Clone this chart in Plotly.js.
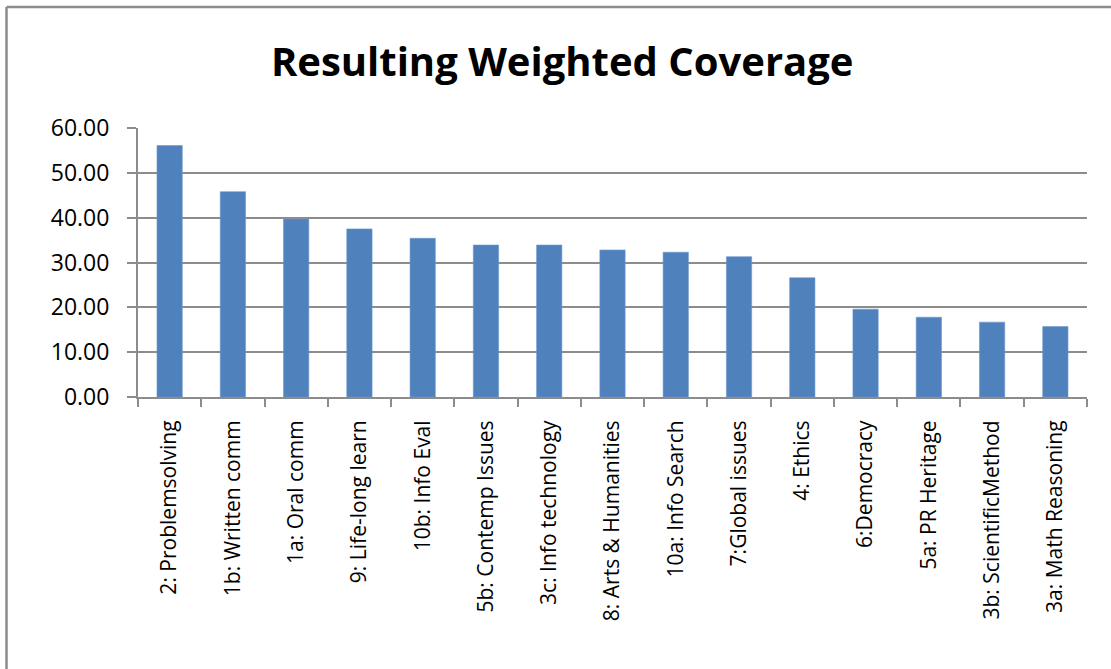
<!DOCTYPE html>
<html>
<head>
<meta charset="utf-8">
<script src="https://cdn.plot.ly/plotly-3.0.1.min.js"></script>
<style>
html,body{margin:0;padding:0;background:#fff;}
#chart{width:1111px;height:669px;}
</style>
</head>
<body>
<div id="chart"></div>
<script>
const categories = [
  "2: Problemsolving", "1b: Written comm", "1a: Oral comm", "9: Life-long learn",
  "10b: Info Eval", "5b: Contemp Issues", "3c: Info technology", "8: Arts & Humanities",
  "10a: Info Search", "7:Global issues", "4: Ethics", "6:Democracy",
  "5a: PR Heritage", "3b: ScientificMethod", "3a: Math Reasoning"
];
const coverage = [56.1, 45.8, 39.7, 37.5, 35.4, 33.9, 33.9, 32.8, 32.3, 31.3, 26.6, 19.6, 17.8, 16.7, 15.7];
const yTickVals = [0, 10, 20, 30, 40, 50, 60];
const yTickText = ["0.00", "10.00", "20.00", "30.00", "40.00", "50.00", "60.00"];
const chartTitle = "Resulting Weighted Coverage";

const L = 138, R = 24, T = 128, B = 272, W = 1111, H = 669;
const pw = W - L - R, ph = H - T - B;
const px = v => (v - L) / pw;
const py = v => (H - B - v) / ph;

const trace = {
  type: "bar",
  x: categories,
  y: coverage,
  marker: {color: "#4F81BD", line: {color: "#6f98cc", width: 0.6}},
  hoverinfo: "x+y"
};

const layout = {
  width: W, height: H,
  margin: {l: L, r: R, t: T, b: B, pad: 0},
  paper_bgcolor: "#ffffff",
  plot_bgcolor: "#ffffff",
  showlegend: false,
  bargap: 0.6,
  font: {family: "Open Sans, sans-serif", color: "#000"},
  title: {
    text: "<b>" + chartTitle + "</b>",
    font: {family: "Open Sans, sans-serif", size: 40, color: "#000"},
    x: 0.506, xanchor: "center",
    y: 1 - 62 / H, yanchor: "middle"
  },
  xaxis: {
    type: "category",
    tickangle: -90,
    tickfont: {family: "Open Sans, sans-serif", size: 21, color: "#000"},
    ticks: "outside", tickson: "boundaries", ticklen: 8, tickcolor: "#8c8c8c", tickwidth: 2,
    showline: true, linecolor: "#8c8c8c", linewidth: 2,
    showgrid: false,
    ticklabelstandoff: 13
  },
  yaxis: {
    range: [0, 60],
    tickvals: yTickVals, ticktext: yTickText,
    tickfont: {family: "Open Sans, sans-serif", size: 23, color: "#000"},
    ticks: "outside", ticklen: 9, tickcolor: "#8c8c8c", tickwidth: 2,
    showline: true, linecolor: "#8c8c8c", linewidth: 2,
    showgrid: true, gridcolor: "#8c8c8c", gridwidth: 2,
    zeroline: false,
    ticklabelstandoff: 13
  },
  shapes: [
    {type: "line", xref: "paper", yref: "paper", x0: px(6.5), x1: px(6.5), y0: py(7), y1: py(H + 2),
     line: {color: "#8c8c8c", width: 2.5}},
    {type: "line", xref: "paper", yref: "paper", x0: px(6.5), x1: px(W + 2), y0: py(7), y1: py(7),
     line: {color: "#8c8c8c", width: 2.5}}
  ]
};

Plotly.newPlot("chart", [trace], layout, {displayModeBar: false, staticPlot: true});
</script>
</body>
</html>
